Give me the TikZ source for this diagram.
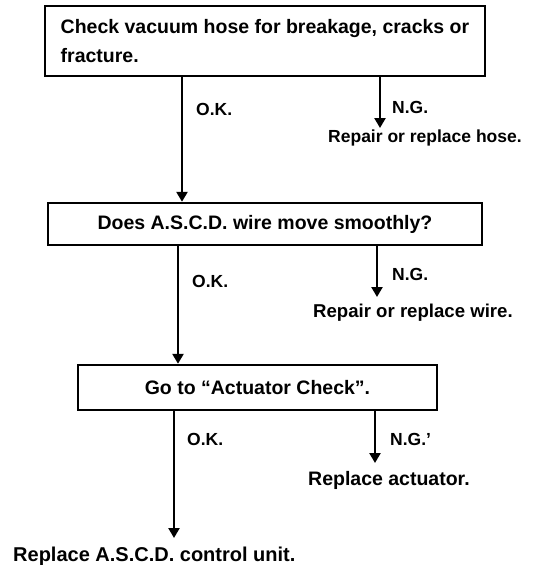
\documentclass[tikz,border=0pt]{standalone}
\usepackage{fontspec}
\setmainfont{Liberation Sans}
\usetikzlibrary{arrows.meta}
\begin{document}
\begin{tikzpicture}[x=1pt,y=-1pt,
  box/.style={draw,line width=2.4pt,inner sep=0pt,font=\fontsize{19.5}{29.5}\selectfont\bfseries},
  lbl/.style={font=\fontsize{17.5}{20}\selectfont\bfseries,inner sep=0pt,anchor=base west},
  arr/.style={line width=2.4pt,-{Triangle[width=11pt,length=10pt]}}]
\useasboundingbox (0,0) rectangle (547,565);
% boxes
\node[box,minimum width=440pt,minimum height=70pt,align=left] (b1) at (265,41)
  {Check vacuum hose for breakage, cracks or\\fracture.};
\node[box,minimum width=434pt,minimum height=42pt] (b2) at (265,224) {Does A.S.C.D. wire move smoothly?};
\node[box,minimum width=359pt,minimum height=45pt] (b3) at (257.5,387.5) {Go to ``Actuator Check''.};
% labels
\node[lbl] (ok1) at (196,115) {O.K.};
\node[lbl] (ng1) at (392,113) {N.G.};
\node[lbl] (rep1) at (328,142) {Repair or replace hose.};
\node[lbl] (ok2) at (192,287) {O.K.};
\node[lbl] (ng2) at (392,280) {N.G.};
\node[lbl,font=\fontsize{18.6}{20}\selectfont\bfseries] (rep2) at (313,317) {Repair or replace wire.};
\node[lbl] (ok3) at (187,445) {O.K.};
\node[lbl] (ng3) at (390,445) {N.G.'};
\node[lbl,font=\fontsize{19.5}{20}\selectfont\bfseries] (rep3) at (308,485) {Replace actuator.};
\node[lbl,font=\fontsize{20}{20}\selectfont\bfseries] (fin) at (13,561) {Replace A.S.C.D. control unit.};
% arrow coordinates
\coordinate (x1) at (182,0);
\coordinate (t1) at (380,128);
\coordinate (x2) at (178,0);
\coordinate (t2) at (377,297);
\coordinate (t3) at (375,463);
\coordinate (t4) at (174,538);
% connectors
\draw[arr] (b1.south -| x1) -- (b2.north -| x1);
\draw[arr] (b1.south -| t1) -- (t1);
\draw[arr] (b2.south -| x2) -- (b3.north -| x2);
\draw[arr] (b2.south -| t2) -- (t2);
\draw[arr] (b3.south -| t4) -- (t4);
\draw[arr] (b3.south -| t3) -- (t3);
\end{tikzpicture}
\end{document}
